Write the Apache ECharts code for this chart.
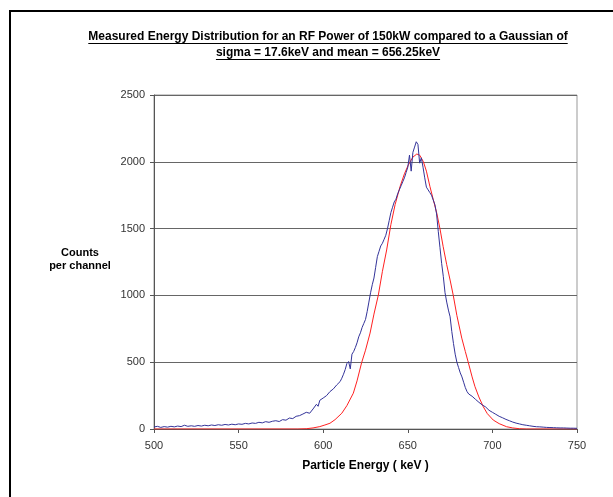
<!DOCTYPE html>
<html>
<head>
<meta charset="utf-8">
<script src="https://cdn.jsdelivr.net/npm/echarts@6/dist/echarts.min.js"></script>
<style>
  html, body { margin: 0; padding: 0; background: #fff; }
  #chart { width: 613px; height: 497px; }
</style>
</head>
<body>
<div id="chart"></div>
<script>
  // measured spectrum (keV, counts)
  const measuredEnergy = [500, 502, 504, 506, 508, 510, 512, 514, 516, 518, 520, 522, 524, 526, 528, 530, 532, 534, 536, 538,
    540, 542, 544, 546, 548, 550, 552, 554, 556, 558, 560, 562, 564, 566, 568, 570, 572, 574, 576, 578,
    580, 582, 584, 586, 588, 590, 592, 594, 596, 597, 598, 600, 602, 604, 606, 608, 610, 611, 612, 613,
    614, 615, 616, 617, 618, 619, 620, 621, 622, 623, 624, 625, 626, 627, 628, 629, 630, 631, 632, 633,
    634, 635, 636, 637, 638, 639, 640, 641, 642, 643, 644, 645, 646, 647, 648, 649, 650, 651, 652, 653,
    654, 655, 656, 657, 658, 659, 660, 661, 662, 663, 664, 665, 666, 667, 668, 669, 670, 671, 672, 673,
    674, 675, 676, 677, 678, 679, 680, 681, 682, 683, 684, 685, 686, 688, 690, 692, 694, 696, 698, 700,
    702, 704, 706, 708, 710, 712, 714, 716, 718, 720, 722, 724, 726, 728, 730, 732, 734, 736, 738, 740,
    742, 744, 746, 748, 750];
  const measuredCounts = [15, 20, 12, 18, 14, 20, 16, 22, 18, 28, 20, 24, 20, 26, 22, 28, 24, 30, 26, 32,
    28, 34, 30, 36, 32, 38, 35, 42, 38, 45, 42, 50, 46, 55, 50, 58, 62, 56, 70, 66,
    82, 78, 95, 100, 112, 125, 118, 150, 185, 170, 215, 232, 250, 280, 300, 330, 355, 380, 410, 445,
    490, 505, 450, 560, 580, 610, 645, 690, 720, 760, 790, 820, 880, 950, 1020, 1080, 1130, 1210, 1290, 1330,
    1370, 1390, 1420, 1450, 1500, 1560, 1620, 1660, 1700, 1720, 1760, 1790, 1820, 1850, 1880, 1920, 1960, 2050, 1930, 2070,
    2110, 2150, 2130, 1990, 2030, 1960, 1880, 1810, 1790, 1770, 1750, 1740, 1680, 1610, 1480, 1360, 1240, 1140, 1020, 950,
    890, 840, 730, 640, 560, 500, 460, 420, 390, 350, 310, 280, 262, 245, 222, 200, 180, 165, 140, 125,
    110, 95, 84, 72, 62, 52, 44, 38, 32, 28, 24, 20, 17, 16, 14, 12, 11, 10, 9, 8,
    8, 7, 6, 6, 5];

  // gaussian comparison curve (keV, counts)
  const gaussEnergy = [500, 585, 590, 594, 598, 601, 604, 607, 611, 614, 617.8, 620, 622.7, 625, 627.7, 630, 632.6, 635, 637.5, 640,
    642.5, 645.4, 648, 650.3, 653, 655.3, 657, 659.2, 661, 663.1, 665, 667.1, 669, 670.9, 673, 675, 676.9, 679, 681.9, 684,
    685.8, 688, 689.7, 692, 694.6, 697, 700.5, 704, 708.4, 712, 716, 720, 750];
  const gaussCounts = [0, 0, 2, 8, 18, 30, 43, 70, 118, 175, 268, 360, 496, 590, 718, 860, 1003, 1180, 1340, 1530,
    1680, 1814, 1910, 1976, 2035, 2058, 2050, 2001, 1930, 1814, 1720, 1617, 1500, 1365, 1230, 1115, 998, 850, 680, 580,
    496, 390, 317, 240, 167, 115, 67, 40, 17, 8, 2, 0, 0];

  const titleLines = [
    'Measured Energy Distribution for an RF Power of 150kW compared to a Gaussian of',
    'sigma = 17.6keV and mean = 656.25keV'
  ];

  const fontFamily = '"Liberation Sans", Arial, sans-serif';
  const titleFont = 'bold 12px ' + fontFamily;

  const measure = document.createElement('canvas').getContext('2d');
  measure.font = titleFont;

  const titleX = 328;
  const titleY = [37, 53];
  const titleGraphics = [];
  titleLines.forEach((line, i) => {
    const w = measure.measureText(line).width;
    titleGraphics.push({
      type: 'text',
      x: titleX,
      y: titleY[i],
      style: { text: line, font: titleFont, fill: '#000', align: 'center', verticalAlign: 'middle' }
    });
    titleGraphics.push({
      type: 'line',
      shape: { x1: titleX - w / 2, y1: titleY[i] + 6.5, x2: titleX + w / 2, y2: titleY[i] + 6.5 },
      style: { stroke: '#000', lineWidth: 1 }
    });
  });

  const chart = echarts.init(document.getElementById('chart'));
  chart.setOption({
    backgroundColor: '#fff',
    animation: false,
    textStyle: { fontFamily: fontFamily },
    grid: {
      left: 154, right: 36, top: 95, bottom: 68,
      show: true, borderColor: '#999', borderWidth: 1
    },
    graphic: [
      {
        type: 'rect',
        shape: { x: 10, y: 11, width: 800, height: 700 },
        style: { fill: 'none', stroke: '#000', lineWidth: 2 }
      },
      {
        type: 'text',
        x: 80,
        y: 259,
        style: {
          text: 'Counts\nper channel',
          font: 'bold 11px ' + fontFamily,
          fill: '#000',
          align: 'center',
          verticalAlign: 'middle',
          lineHeight: 13
        }
      }
    ].concat(titleGraphics),
    xAxis: {
      type: 'value',
      min: 500,
      max: 750,
      interval: 50,
      name: 'Particle Energy ( keV )',
      nameLocation: 'middle',
      nameGap: 31,
      nameTextStyle: { fontWeight: 'bold', fontSize: 12, color: '#000' },
      axisLine: { onZero: false, lineStyle: { color: '#555', width: 1 } },
      axisTick: { show: true, inside: false, length: 4, lineStyle: { color: '#555' } },
      axisLabel: { fontSize: 11, color: '#333', margin: 11 },
      splitLine: { show: false }
    },
    yAxis: {
      type: 'value',
      min: 0,
      max: 2500,
      interval: 500,
      axisLine: { show: true, lineStyle: { color: '#555', width: 1 } },
      axisTick: { show: true, inside: false, length: 4, lineStyle: { color: '#555' } },
      axisLabel: { fontSize: 11, color: '#333', margin: 9, formatter: (v) => String(v) },
      splitLine: { show: true, lineStyle: { color: '#666', width: 1 } }
    },
    series: [
      {
        name: 'Gaussian',
        type: 'line',
        showSymbol: false,
        data: gaussEnergy.map((e, i) => [e, gaussCounts[i]]),
        lineStyle: { color: '#ff2020', width: 1 },
        itemStyle: { color: '#ff2020' },
        z: 2
      },
      {
        name: 'Measured',
        type: 'line',
        showSymbol: false,
        data: measuredEnergy.map((e, i) => [e, measuredCounts[i]]),
        lineStyle: { color: '#333399', width: 1 },
        itemStyle: { color: '#333399' },
        z: 3
      }
    ]
  });
</script>
</body>
</html>
